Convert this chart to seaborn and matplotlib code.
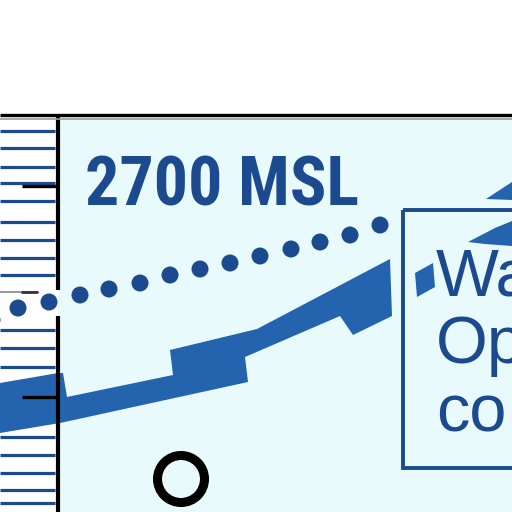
import matplotlib
matplotlib.use('Agg')
import matplotlib.pyplot as plt
import matplotlib.patches as mpatches
import seaborn as sns

sns.set_theme(style='white')

BG = '#E9FAFD'
NAVY = '#1B4A8E'
BAND = '#2463AE'

# dotted level line (x, y in picture pixels)
dot_x = [-8, 18, 49, 80, 109, 140, 170, 200, 230, 260, 291, 320, 350, 380]
dot_y = [320, 308, 302, 295, 289, 283, 275, 269, 263, 256, 249, 242, 235, 225]

# main blue band outline
band_x = [0, 58, 63, 67, 173, 170, 257, 390, 392, 353, 340, 245, 248, 60, 0]
band_y = [383, 373, 373, 397, 375, 350, 329, 259, 316, 335, 316, 357, 382, 423, 433]

# band pieces inside / above the box
piece_x = [415, 433, 435, 417]
piece_y = [273, 263, 287, 297]
wedge_x = [468, 495, 512, 512, 485]
wedge_y = [242, 228, 221, 246, 244]
tri_x = [486, 512, 512]
tri_y = [199, 182, 200]

# gauge stripes on left strip
stripe_y = [131, 148, 167, 183, 201, 222, 240, 258, 275,
            330, 348, 367, 437, 455, 473, 490, 503]
tick_y = [186, 397]

title_text = '2700 MSL'
box_lines = ['Wa', 'Op', 'co']
box_base = [295, 363, 432]

fig = plt.figure(figsize=(5.12, 5.12), dpi=100, facecolor='white')
ax = fig.add_axes([0, 0, 1, 1])

# panel background
ax.add_patch(mpatches.Rectangle((58, 117), 460, 400, facecolor=BG, edgecolor='none', zorder=0))

# top border
ax.plot([0, 512], [115, 115], color='black', lw=2.4, zorder=5, solid_capstyle='butt')
ax.plot([0, 512], [118.5, 118.5], color='#9A9A9A', lw=1.2, zorder=5)

# stripes
for y in stripe_y:
    ax.plot([0, 55], [y, y], color=NAVY, lw=2.3, zorder=1, solid_capstyle='butt')
ax.plot([0, 37], [292, 292], color='#7A8AA0', lw=1.2, zorder=1)
ax.plot([22, 37], [292, 292], color='#333333', lw=2, zorder=1)

# vertical axis line with gap for dots
ax.plot([58, 58], [115, 290], color='black', lw=3, zorder=4, solid_capstyle='butt')
ax.plot([58, 58], [316, 512], color='black', lw=3, zorder=4, solid_capstyle='butt')
for y in tick_y:
    ax.plot([22, 58], [y, y], color='black', lw=2.4, zorder=4, solid_capstyle='butt')

# band
ax.fill(band_x, band_y, color=BAND, lw=0, zorder=3)
ax.fill(piece_x, piece_y, color=BAND, lw=0, zorder=3)
ax.fill(wedge_x, wedge_y, color=BAND, lw=0, zorder=3)
ax.fill(tri_x, tri_y, color=BAND, lw=0, zorder=3)

# dotted line
sns.scatterplot(x=dot_x, y=dot_y, s=150, color=NAVY, edgecolor='none', ax=ax, zorder=4)

# circle marker
ax.add_patch(mpatches.Circle((181, 479), 23.5, facecolor='none', edgecolor='black', lw=6.5, zorder=4))

# title
ax.text(85, 205, title_text, color=NAVY, fontsize=49, fontweight='bold',
        family=['Liberation Sans Narrow', 'Roboto Condensed', 'Roboto'],
        va='baseline', ha='left', zorder=6)

# box
ax.add_patch(mpatches.Rectangle((403, 210), 130, 258, facecolor='none', edgecolor=NAVY, lw=2.8, zorder=5))
for s, yb in zip(box_lines, box_base):
    ax.text(436, yb, s, color=NAVY, fontsize=48, family=['Liberation Sans', 'DejaVu Sans'],
            va='baseline', ha='left', zorder=6, clip_on=True)

ax.set_xlim(0, 512)
ax.set_ylim(512, 0)
ax.axis('off')

fig.savefig('out.png', dpi=100, facecolor='white')
